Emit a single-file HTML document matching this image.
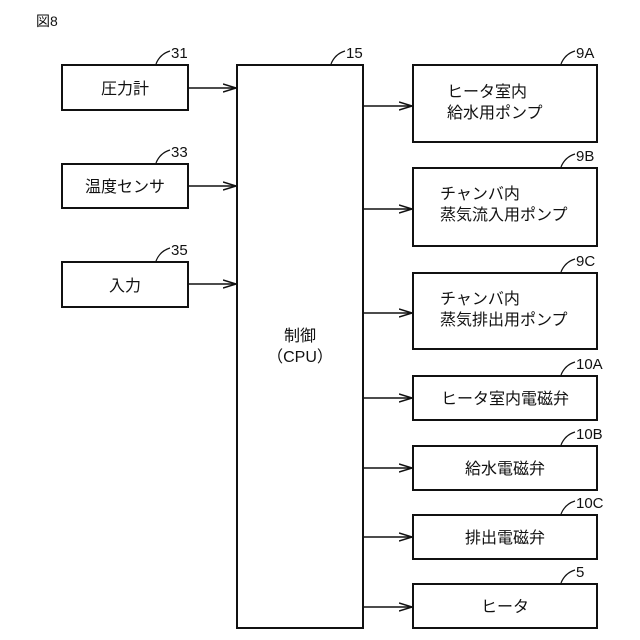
<!DOCTYPE html>
<html><head><meta charset="utf-8"><style>
html,body{margin:0;padding:0;background:#fff}
svg{display:block}
text{font-family:"Liberation Sans","Noto Sans CJK JP",sans-serif;fill:#111}
</style></head><body>
<svg width="640" height="640" viewBox="0 0 640 640" xmlns="http://www.w3.org/2000/svg">
<defs><marker id="a" markerWidth="14" markerHeight="10" refX="13" refY="5" orient="auto" markerUnits="userSpaceOnUse"><path d="M0,1 L13,5 L0,9" fill="none" stroke="#111" stroke-width="1.5"/></marker></defs>
<text x="36" y="26" font-size="14">図8</text>
<g fill="none" stroke="#111" stroke-width="2">
<rect x="62" y="65" width="126" height="45"/>
<rect x="62" y="164" width="126" height="44"/>
<rect x="62" y="262" width="126" height="45"/>
<rect x="237" y="65" width="126" height="563"/>
<rect x="413" y="65" width="184" height="77"/>
<rect x="413" y="168" width="184" height="78"/>
<rect x="413" y="273" width="184" height="76"/>
<rect x="413" y="376" width="184" height="44"/>
<rect x="413" y="446" width="184" height="44"/>
<rect x="413" y="515" width="184" height="44"/>
<rect x="413" y="584" width="184" height="44"/>
</g>
<g stroke="#111" stroke-width="1.6" marker-end="url(#a)">
<line x1="188" y1="88" x2="236" y2="88"/>
<line x1="188" y1="186" x2="236" y2="186"/>
<line x1="188" y1="284" x2="236" y2="284"/>
<line x1="363" y1="106" x2="412" y2="106"/>
<line x1="363" y1="209" x2="412" y2="209"/>
<line x1="363" y1="313" x2="412" y2="313"/>
<line x1="363" y1="398" x2="412" y2="398"/>
<line x1="363" y1="468" x2="412" y2="468"/>
<line x1="363" y1="537" x2="412" y2="537"/>
<line x1="363" y1="607" x2="412" y2="607"/>
</g>
<g fill="none" stroke="#111" stroke-width="1.2">
<path d="M156,64 Q160,54 170,51"/>
<path d="M156,163 Q160,153 170,150"/>
<path d="M156,261 Q160,251 170,248"/>
<path d="M331,64 Q335,54 345,51"/>
<path d="M561,64 Q565,54 575,51"/>
<path d="M561,167 Q565,157 575,154"/>
<path d="M561,272 Q565,262 575,259"/>
<path d="M561,375 Q565,365 575,362"/>
<path d="M561,445 Q565,435 575,432"/>
<path d="M561,514 Q565,504 575,501"/>
<path d="M561,583 Q565,573 575,570"/>
</g>
<g font-size="15">
<text x="171" y="58">31</text>
<text x="171" y="157">33</text>
<text x="171" y="255">35</text>
<text x="346" y="58">15</text>
<text x="576" y="58">9A</text>
<text x="576" y="161">9B</text>
<text x="576" y="266">9C</text>
<text x="576" y="369">10A</text>
<text x="576" y="439">10B</text>
<text x="576" y="508">10C</text>
<text x="576" y="577">5</text>
</g>
<g font-size="16" text-anchor="middle">
<text x="125" y="94">圧力計</text>
<text x="125" y="192">温度センサ</text>
<text x="125" y="291">入力</text>
<text x="300" y="341">制御</text>
<text x="300" y="362">（CPU）</text>
<text x="505" y="404">ヒータ室内電磁弁</text>
<text x="505" y="474">給水電磁弁</text>
<text x="505" y="543">排出電磁弁</text>
<text x="505" y="612">ヒータ</text>
</g>
<g font-size="16">
<text x="447" y="97">ヒータ室内</text>
<text x="447" y="118">給水用ポンプ</text>
<text x="440" y="199">チャンバ内</text>
<text x="440" y="220">蒸気流入用ポンプ</text>
<text x="440" y="304">チャンバ内</text>
<text x="440" y="325">蒸気排出用ポンプ</text>
</g>
</svg>
</body></html>
